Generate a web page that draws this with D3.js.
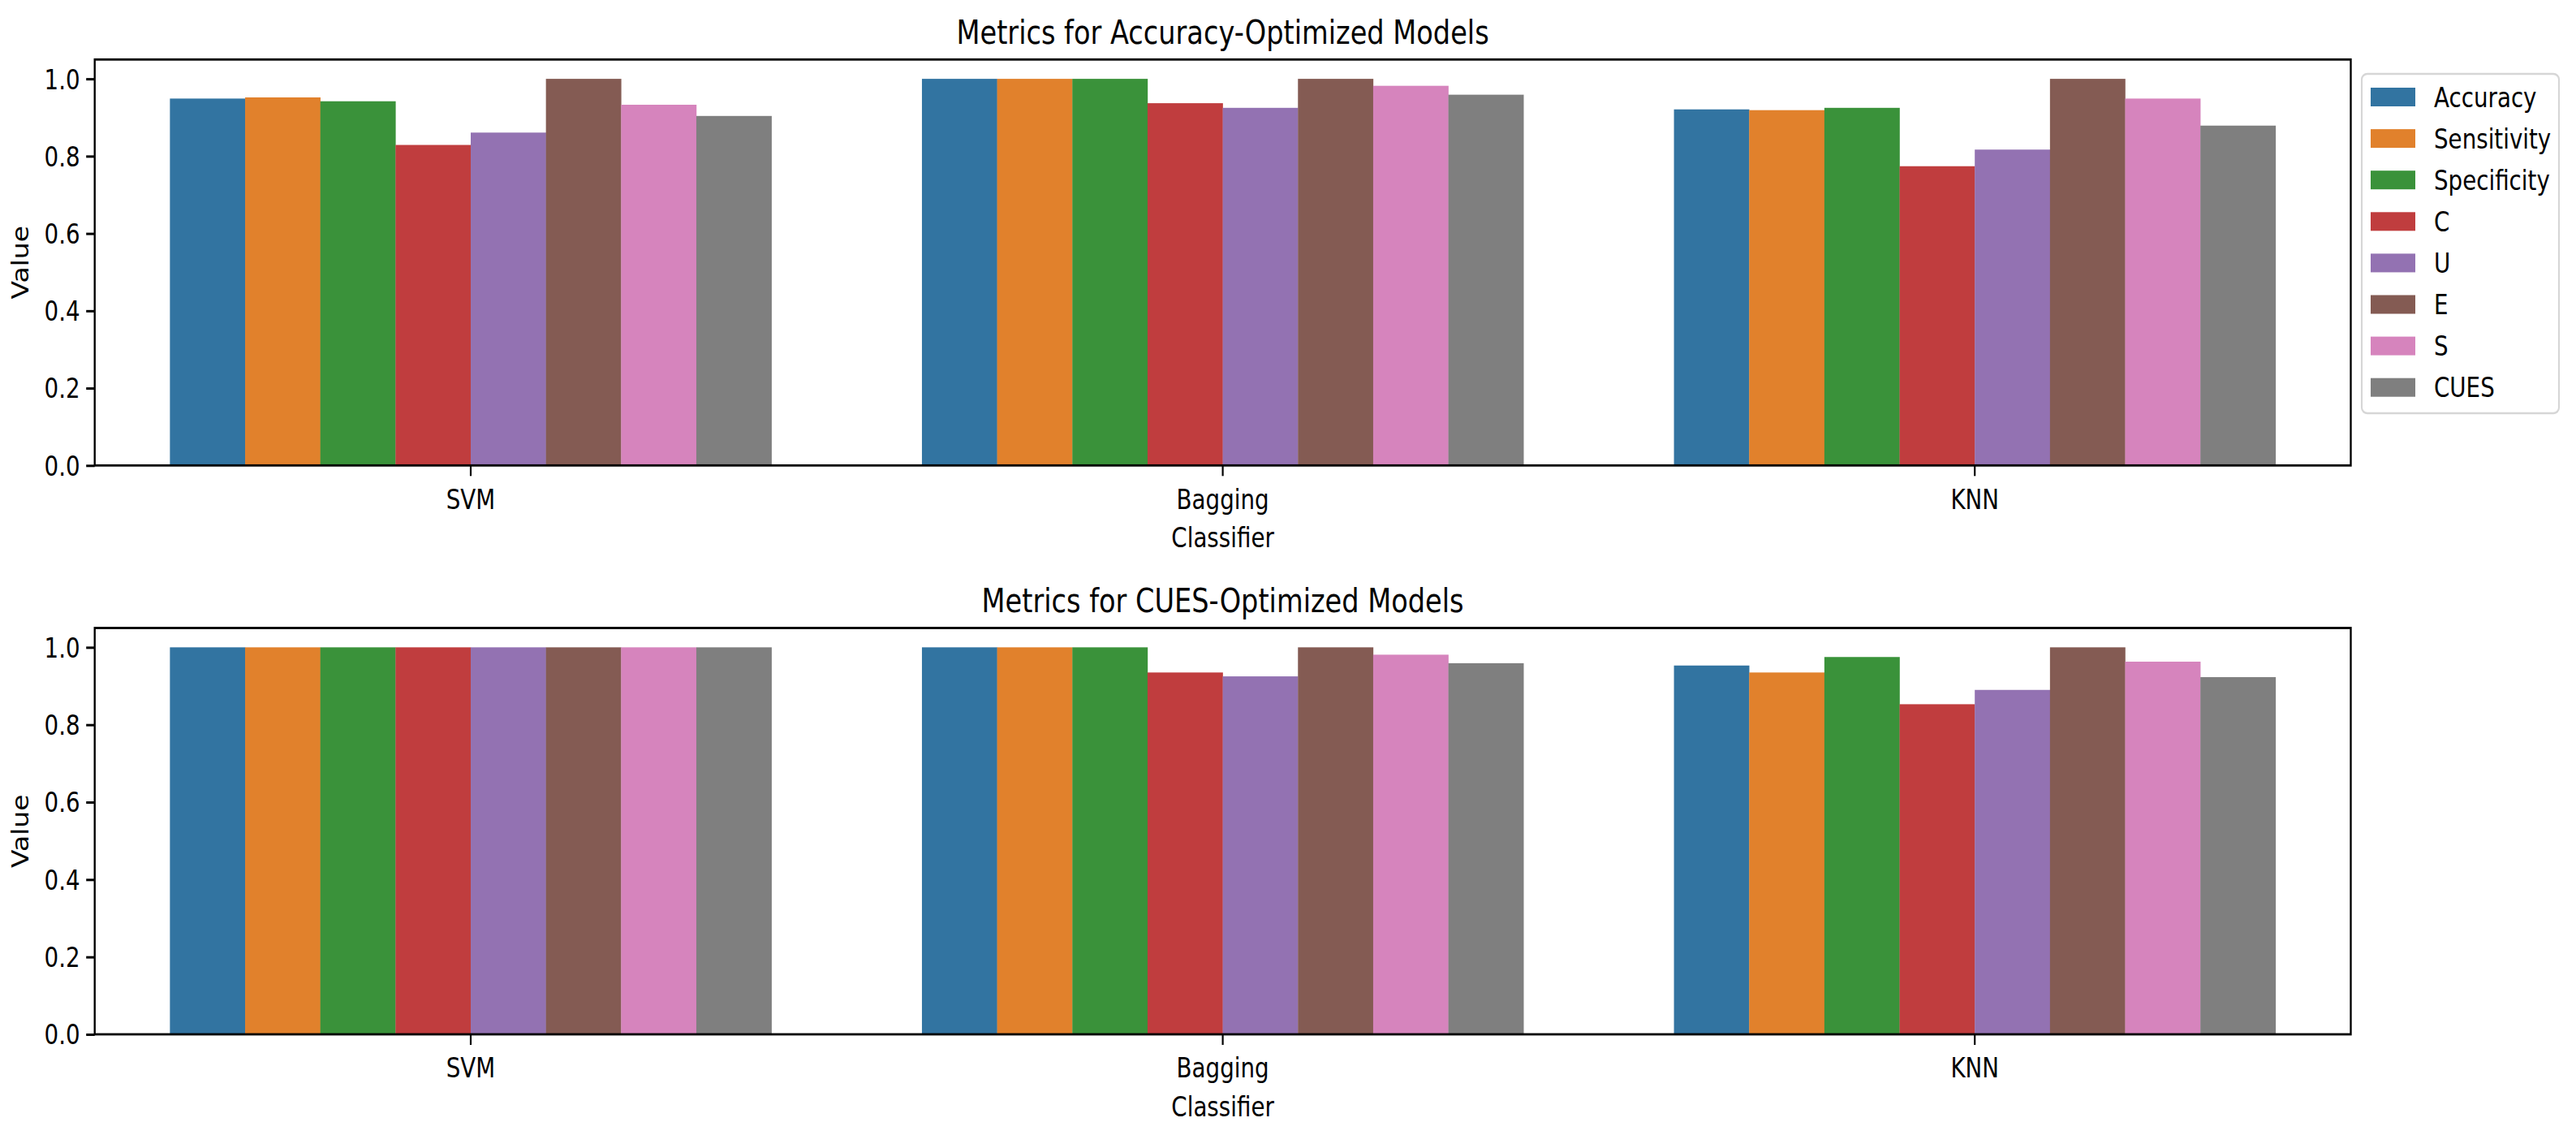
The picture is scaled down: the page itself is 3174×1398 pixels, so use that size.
<!DOCTYPE html>
<html>
<head>
<meta charset="utf-8">
<script src="https://cdn.jsdelivr.net/npm/d3@7"></script>
<style>
  html, body { margin: 0; padding: 0; background: #fff; }
  svg { display: block; }
  text { font-family: "DejaVu Sans", sans-serif; fill: #000; }
</style>
</head>
<body>
<div id="chart"></div>
<script>
// Chart data
var classifiers = ["SVM", "Bagging", "KNN"];
var metrics = ["Accuracy", "Sensitivity", "Specificity", "C", "U", "E", "S", "CUES"];
var accuracyOptimized = [
    [0.949, 0.952, 0.942, 0.829, 0.861, 1.000, 0.933, 0.904],
    [1.000, 1.000, 1.000, 0.937, 0.925, 1.000, 0.982, 0.959],
    [0.921, 0.919, 0.925, 0.774, 0.817, 1.000, 0.949, 0.879]
];
var cuesOptimized = [
    [1.000, 1.000, 1.000, 1.000, 1.000, 1.000, 1.000, 1.000],
    [1.000, 1.000, 1.000, 0.935, 0.925, 1.000, 0.981, 0.959],
    [0.953, 0.935, 0.975, 0.853, 0.890, 1.000, 0.963, 0.923]
];
var yTicks = [0.0, 0.2, 0.4, 0.6, 0.8, 1.0];
var titles = ["Metrics for Accuracy-Optimized Models", "Metrics for CUES-Optimized Models"];
var palette = ["#3274a1", "#e1812c", "#3a923a", "#c03d3e", "#9372b2", "#845b53", "#d684bd", "#7f7f7f"];

var WIDTH = 3174, HEIGHT = 1398;
// The picture is squeezed horizontally; draw in a wider space and stretch it back.
var SX = 0.84;
var ix = function(px) { return px / SX; };

var FONT = 33, TITLE_FONT = 40;
var LEFT = 116.7, RIGHT = 2896.5;
var panels = [
    {title: titles[0], values: accuracyOptimized, top: 73.3, zero: 573.3},
    {title: titles[1], values: cuesOptimized, top: 773.5, zero: 1274}
];

var svg = d3.select("#chart").append("svg")
    .attr("width", WIDTH)
    .attr("height", HEIGHT)
    .attr("viewBox", "0 0 " + ix(WIDTH) + " " + HEIGHT)
    .attr("preserveAspectRatio", "none");

var color = d3.scaleOrdinal().domain(metrics).range(palette);

var x0 = d3.scaleBand()
    .domain(classifiers)
    .range([ix(LEFT), ix(RIGHT)])
    .paddingInner(0.2)
    .paddingOuter(0.1);

var x1 = d3.scaleBand()
    .domain(metrics)
    .range([0, x0.bandwidth()]);

panels.forEach(function(p) {
    var y = d3.scaleLinear().domain([0, 1.05]).range([p.zero, p.top]);
    var g = svg.append("g");

    // bars
    var groups = g.selectAll("g.group")
        .data(classifiers)
        .enter().append("g")
        .attr("class", "group")
        .attr("transform", function(d) { return "translate(" + x0(d) + ",0)"; });

    groups.selectAll("rect")
        .data(function(d, i) {
            return metrics.map(function(m, j) { return {metric: m, value: p.values[i][j]}; });
        })
        .enter().append("rect")
        .attr("x", function(d) { return x1(d.metric); })
        .attr("width", x1.bandwidth() + 0.3)
        .attr("y", function(d) { return y(d.value); })
        .attr("height", function(d) { return y(0) - y(d.value); })
        .attr("fill", function(d) { return color(d.metric); });

    // y axis
    var yAxis = g.append("g")
        .attr("transform", "translate(" + ix(LEFT) + ",0)")
        .call(d3.axisLeft(y).tickValues(yTicks).tickFormat(d3.format(".1f"))
            .tickSize(12.5).tickPadding(9));
    yAxis.select(".domain").remove();
    yAxis.selectAll("line").attr("stroke", "#000").attr("stroke-width", 3);
    yAxis.selectAll("text").style("font-size", FONT + "px").attr("fill", "#000")
        .attr("dy", "0.36em");
    yAxis.attr("font-family", null).attr("font-size", null);

    // x axis
    var xAxis = g.append("g")
        .attr("transform", "translate(0," + p.zero + ")")
        .call(d3.axisBottom(x0).tickSize(13).tickPadding(17));
    xAxis.select(".domain").remove();
    xAxis.selectAll("line").attr("stroke", "#000").attr("stroke-width", 2.6);
    xAxis.selectAll("text").style("font-size", FONT + "px").attr("fill", "#000");
    xAxis.attr("font-family", null).attr("font-size", null);

    // frame
    g.append("rect")
        .attr("x", ix(LEFT))
        .attr("y", p.top)
        .attr("width", ix(RIGHT) - ix(LEFT))
        .attr("height", p.zero - p.top)
        .attr("fill", "none")
        .attr("stroke", "#000")
        .attr("stroke-width", 2.8);

    var cx = (ix(LEFT) + ix(RIGHT)) / 2;

    g.append("text")
        .attr("x", cx)
        .attr("y", p.top - 19.3)
        .attr("text-anchor", "middle")
        .style("font-size", TITLE_FONT + "px")
        .text(p.title);

    g.append("text")
        .attr("x", cx)
        .attr("y", p.zero + 100.7)
        .attr("text-anchor", "middle")
        .style("font-size", FONT + "px")
        .text("Classifier");

    g.append("text")
        .attr("transform", "translate(" + ix(35) + "," + (p.top + p.zero) / 2 + ") rotate(-90)")
        .attr("text-anchor", "middle")
        .style("font-size", FONT + "px")
        .text("Value");
});

// legend for the first panel
var legend = svg.append("g");
legend.append("rect")
    .attr("x", ix(2910))
    .attr("y", 91)
    .attr("width", ix(3153) - ix(2910))
    .attr("height", 509 - 91)
    .attr("rx", ix(7))
    .attr("ry", 7)
    .attr("fill", "#fff")
    .attr("fill-opacity", 0.8)
    .attr("stroke", "#d6d6d6")
    .attr("stroke-width", 2.5);

var rows = legend.selectAll("g.row")
    .data(metrics)
    .enter().append("g")
    .attr("class", "row")
    .attr("transform", function(d, i) { return "translate(0," + (119.5 + i * 51.1) + ")"; });

rows.append("rect")
    .attr("x", ix(2921))
    .attr("y", -11.5)
    .attr("width", ix(55))
    .attr("height", 23)
    .attr("fill", function(d) { return color(d); });

rows.append("text")
    .attr("x", ix(2999))
    .attr("y", 12)
    .style("font-size", FONT + "px")
    .text(function(d) { return d; });
</script>
</body>
</html>
